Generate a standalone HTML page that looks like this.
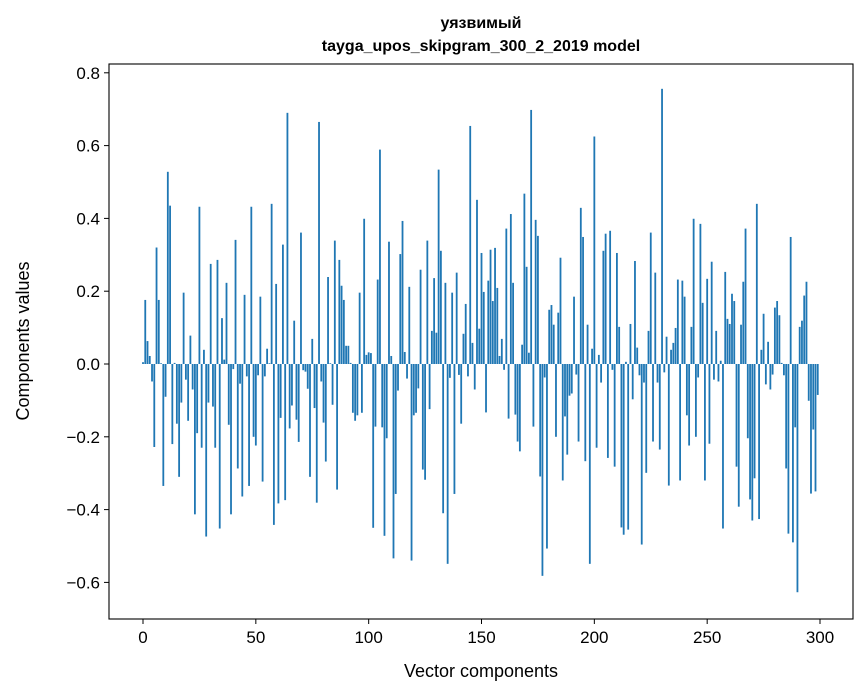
<!DOCTYPE html>
<html><head><meta charset="utf-8"><style>
html,body{margin:0;padding:0;background:#fff;}
svg{display:block;font-family:"Liberation Sans","DejaVu Sans",sans-serif;}
</style></head><body>
<svg id="chart" width="867" height="696">
<text x="481" y="28" text-anchor="middle" font-size="16" font-weight="bold">уязвимый</text>
<text x="481" y="51" text-anchor="middle" font-size="16" font-weight="bold">tayga_upos_skipgram_300_2_2019 model</text>
<g id="bars"></g>
<g id="xticks"></g>
<g id="yticks"></g>
<rect x="109" y="64" width="744" height="555" fill="none" stroke="#000" stroke-width="1.1"/>
<text x="481" y="677" text-anchor="middle" font-size="18">Vector components</text>
<text transform="translate(29,341) rotate(-90)" text-anchor="middle" font-size="18">Components values</text>
</svg>
<script>
const values = [0.005,0.176,0.063,0.022,-0.048,-0.228,0.32,0.176,0.002,-0.335,-0.09,0.528,0.435,-0.22,0.003,-0.164,-0.31,-0.106,0.196,-0.043,
-0.156,0.078,-0.07,-0.413,-0.19,0.432,-0.23,0.039,-0.474,-0.106,0.275,-0.117,-0.23,0.286,-0.452,0.126,0.012,0.223,-0.167,-0.413,
-0.014,0.341,-0.287,-0.054,-0.364,0.19,-0.034,-0.335,0.432,-0.2,-0.224,-0.031,0.185,-0.323,-0.034,0.042,0.002,0.44,-0.442,0.22,
-0.383,-0.148,0.328,-0.374,0.69,-0.177,-0.114,0.119,-0.153,-0.214,0.361,-0.017,-0.021,-0.068,-0.31,0.069,-0.121,-0.381,0.665,-0.048,
-0.161,-0.268,0.239,0.002,-0.112,0.339,-0.345,0.286,0.215,0.176,0.05,0.05,0.003,-0.134,-0.156,-0.141,0.196,-0.134,0.399,0.025,
0.032,0.03,-0.45,-0.172,0.232,0.589,-0.174,-0.472,-0.204,0.336,0.022,-0.534,-0.357,-0.073,0.302,0.393,0.033,-0.04,0.212,-0.54,
-0.141,-0.134,-0.067,0.259,-0.29,-0.318,0.339,-0.124,0.091,0.236,0.086,0.534,0.311,-0.41,0.223,-0.549,-0.038,0.196,-0.357,0.251,
-0.03,-0.164,0.083,0.165,-0.034,0.654,0.058,-0.07,0.451,0.097,0.305,0.198,-0.133,0.229,0.314,0.173,0.319,0.209,0.022,0.069,
-0.016,0.372,-0.15,0.412,0.223,-0.139,-0.213,-0.24,0.053,0.468,0.267,0.031,0.698,-0.172,0.396,0.352,-0.309,-0.582,-0.037,-0.507,
0.149,0.162,0.108,-0.2,0.141,0.292,-0.32,-0.144,-0.249,-0.087,-0.081,0.185,-0.029,-0.213,0.429,0.349,-0.267,0.108,-0.549,0.042,
0.625,-0.23,0.025,-0.051,0.311,0.358,-0.258,0.366,-0.016,-0.282,0.305,0.102,-0.449,-0.469,0.006,-0.455,0.11,-0.097,0.283,0.045,
-0.031,-0.496,-0.051,-0.299,0.091,0.361,-0.213,0.251,-0.051,-0.235,0.756,-0.023,0.075,-0.334,0.039,0.058,0.099,0.232,-0.32,0.229,
0.185,-0.141,-0.224,0.102,0.399,-0.2,-0.037,0.385,0.168,-0.32,0.234,-0.219,0.281,-0.043,0.091,-0.048,0.009,-0.452,0.253,0.124,
0.11,0.193,0.173,-0.282,-0.392,0.108,0.226,0.372,-0.204,-0.372,-0.43,-0.314,0.44,-0.426,0.039,0.138,-0.056,0.061,-0.07,-0.029,
0.155,0.173,0.134,0.003,-0.031,-0.287,-0.466,0.349,-0.49,-0.174,-0.627,0.102,0.119,0.188,0.226,-0.101,-0.356,-0.18,-0.35,-0.085];
const xTickValues = [0,50,100,150,200,250,300];
const yTickValues = [-0.6,-0.4,-0.2,0.0,0.2,0.4,0.6,0.8];
const yTickLabels = ["\u22120.6","\u22120.4","\u22120.2","0.0","0.2","0.4","0.6","0.8"];

const NS="http://www.w3.org/2000/svg";
function xs(v){return 143 + v*2.2567;}
function ys(v){return 364 - v*364;}
const bars=document.getElementById('bars');
values.forEach((v,i)=>{
  const r=document.createElementNS(NS,'rect');
  const y0=ys(0), y1=ys(v);
  r.setAttribute('x',xs(i-0.4));
  r.setAttribute('width',0.8*2.2567);
  r.setAttribute('y',Math.min(y0,y1));
  r.setAttribute('height',Math.abs(y1-y0));
  r.setAttribute('fill','#1f77b4');
  
  
  bars.appendChild(r);
});
const xg=document.getElementById('xticks');
xTickValues.forEach(t=>{
  const l=document.createElementNS(NS,'line');
  l.setAttribute('x1',xs(t));l.setAttribute('x2',xs(t));
  l.setAttribute('y1',619);l.setAttribute('y2',624);
  l.setAttribute('stroke','#000');
  
  
  xg.appendChild(l);
  const tx=document.createElementNS(NS,'text');
  tx.setAttribute('x',xs(t));tx.setAttribute('y',643);
  tx.setAttribute('text-anchor','middle');tx.setAttribute('font-size','17');
  tx.textContent=String(t);
  
  
  xg.appendChild(tx);
});
const yg=document.getElementById('yticks');
yTickValues.forEach((t,k)=>{
  const l=document.createElementNS(NS,'line');
  l.setAttribute('x1',104);l.setAttribute('x2',109);
  l.setAttribute('y1',ys(t));l.setAttribute('y2',ys(t));
  l.setAttribute('stroke','#000');
  
  
  yg.appendChild(l);
  const tx=document.createElementNS(NS,'text');
  tx.setAttribute('x',100);tx.setAttribute('y',ys(t)+6);
  tx.setAttribute('text-anchor','end');tx.setAttribute('font-size','17');
  tx.textContent=yTickLabels[k];
  
  
  yg.appendChild(tx);
});
</script>
</body></html>
